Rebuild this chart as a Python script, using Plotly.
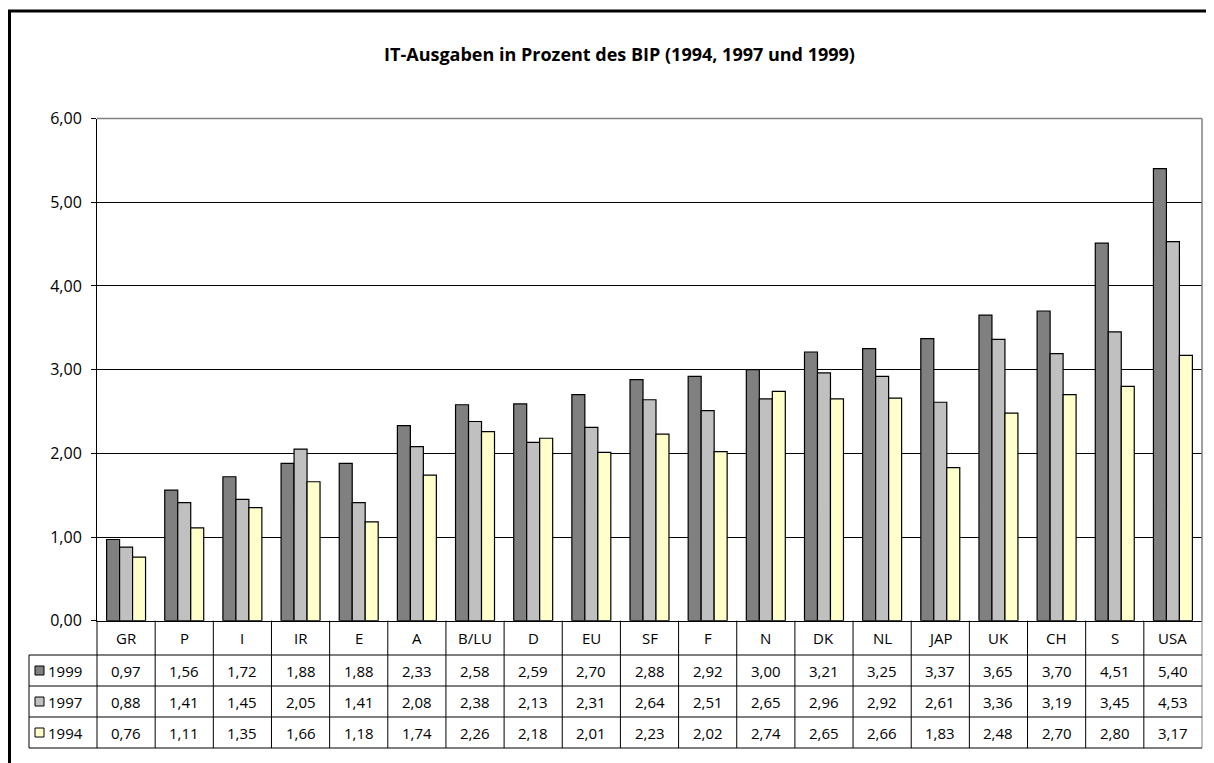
import plotly.graph_objects as go

# Daten
laender = ['GR', 'P', 'I', 'IR', 'E', 'A', 'B/LU', 'D', 'EU', 'SF', 'F', 'N',
           'DK', 'NL', 'JAP', 'UK', 'CH', 'S', 'USA']
werte_1999 = [0.97, 1.56, 1.72, 1.88, 1.88, 2.33, 2.58, 2.59, 2.70, 2.88, 2.92, 3.00,
              3.21, 3.25, 3.37, 3.65, 3.70, 4.51, 5.40]
werte_1997 = [0.88, 1.41, 1.45, 2.05, 1.41, 2.08, 2.38, 2.13, 2.31, 2.64, 2.51, 2.65,
              2.96, 2.92, 2.61, 3.36, 3.19, 3.45, 4.53]
werte_1994 = [0.76, 1.11, 1.35, 1.66, 1.18, 1.74, 2.26, 2.18, 2.01, 2.23, 2.02, 2.74,
              2.65, 2.66, 1.83, 2.48, 2.70, 2.80, 3.17]
jahre = ['1999', '1997', '1994']
farben = ['#808080', '#C0C0C0', '#FFFFCC']

W, H = 1214, 763
OFF = 8  # Seitenrand des Browsers
FONT = 'Open Sans'


def px_x(p):
    return (p - OFF) / W


def px_y(p):
    return 1 - (p - OFF) / H


# Plotbereich in Pixeln (Bildschirmkoordinaten)
LINKS, RECHTS, OBEN, UNTEN = 97, 1202, 118.5, 620.7
LEG_LINKS = 29
ZEILEN = [620.7, 655, 686, 717, 748]

fig = go.Figure()
serien = [werte_1999, werte_1997, werte_1994]
for jahr, werte, farbe in zip(jahre, serien, farben):
    fig.add_trace(go.Bar(
        x=laender, y=werte, name=jahr,
        marker=dict(color=farbe, line=dict(color='black', width=1.2)),
    ))

fig.update_layout(
    width=W, height=H,
    margin=dict(l=0, r=0, t=0, b=0, autoexpand=False),
    paper_bgcolor='white', plot_bgcolor='white',
    barmode='group', bargap=0.33, bargroupgap=0,
    showlegend=False,
    separators=',.',
    font=dict(family=FONT, size=15, color='black'),
    title=dict(text='<b>IT-Ausgaben in Prozent des BIP (1994, 1997 und 1999)</b>',
               x=px_x(619.5), xanchor='center', y=px_y(55), yanchor='middle',
               font=dict(family=FONT, size=18, color='black')),
    xaxis=dict(domain=[px_x(LINKS), px_x(RECHTS)], showticklabels=False,
               showline=True, linecolor='black', linewidth=1, ticks='',
               showgrid=False, fixedrange=True, automargin=False),
    yaxis=dict(domain=[px_y(UNTEN), px_y(OBEN)], range=[0, 6], dtick=1,
               tickformat='.2f', showline=True, linecolor='black', linewidth=1,
               ticks='outside', ticklen=5, tickcolor='black',
               showgrid=True, gridcolor='black', gridwidth=1, zeroline=False,
               tickfont=dict(family=FONT, size=16), ticklabelstandoff=6,
               automargin=False),
)

shapes = []
# Rahmen des Diagramms
shapes.append(dict(type='rect', xref='paper', yref='paper',
                   x0=px_x(9.5), x1=1.01, y0=-0.01, y1=px_y(11),
                   line=dict(color='black', width=3)))
# Plotbereich oben und rechts grau
shapes.append(dict(type='line', xref='x domain', yref='y domain',
                   x0=0, x1=1, y0=1, y1=1, layer='above',
                   line=dict(color='#808080', width=1.5)))
shapes.append(dict(type='line', xref='x domain', yref='y domain',
                   x0=1, x1=1, y0=0, y1=1, layer='above',
                   line=dict(color='#808080', width=1.5)))

# Datentabelle
n = len(laender)
spalte = (RECHTS - LINKS) / n
for i in range(n + 1):
    xp = LINKS + i * spalte
    farbe = '#808080' if i == n else 'black'
    shapes.append(dict(type='line', xref='paper', yref='paper',
                       x0=px_x(xp), x1=px_x(xp), y0=px_y(ZEILEN[0]), y1=px_y(ZEILEN[-1]),
                       line=dict(color=farbe, width=1)))
shapes.append(dict(type='line', xref='paper', yref='paper',
                   x0=px_x(LEG_LINKS), x1=px_x(LEG_LINKS), y0=px_y(ZEILEN[1]), y1=px_y(ZEILEN[-1]),
                   line=dict(color='black', width=1)))
for yp in ZEILEN[1:]:
    shapes.append(dict(type='line', xref='paper', yref='paper',
                       x0=px_x(LEG_LINKS), x1=px_x(RECHTS), y0=px_y(yp), y1=px_y(yp),
                       line=dict(color='black', width=1)))

annotations = []
mitte = [(ZEILEN[k] + ZEILEN[k + 1]) / 2 for k in range(4)]
for i, land in enumerate(laender):
    annotations.append(dict(x=land, xref='x', y=px_y(mitte[0]), yref='paper',
                            text=land, showarrow=False, xanchor='center', yanchor='middle'))
    for k, werte in enumerate(serien):
        annotations.append(dict(x=land, xref='x', y=px_y(mitte[k + 1]), yref='paper',
                                text=f'{werte[i]:.2f}'.replace('.', ','), showarrow=False,
                                xanchor='center', yanchor='middle'))

# Legendenspalte
for k, (jahr, farbe) in enumerate(zip(jahre, farben)):
    yc = mitte[k + 1]
    shapes.append(dict(type='rect', xref='paper', yref='paper',
                       x0=px_x(35), x1=px_x(44), y0=px_y(yc - 4.5), y1=px_y(yc + 4.5),
                       fillcolor=farbe, line=dict(color='black', width=1)))
    annotations.append(dict(x=px_x(46), xref='paper', y=px_y(yc), yref='paper',
                            text=jahr, showarrow=False, xanchor='left', yanchor='middle'))

fig.update_layout(shapes=shapes, annotations=annotations)

fig.write_html('out.html')
